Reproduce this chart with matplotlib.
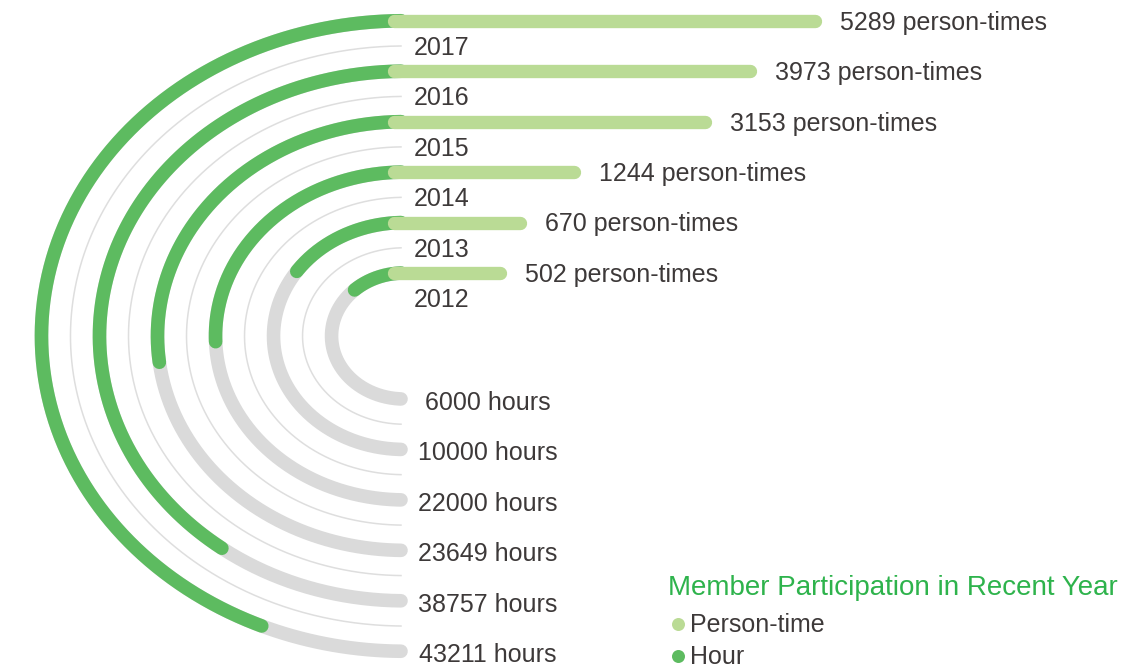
import numpy as np
import matplotlib
matplotlib.use('Agg')
import matplotlib.pyplot as plt
from matplotlib.lines import Line2D

# ---------------- data ----------------
years = ['2012', '2013', '2014', '2015', '2016', '2017']
person_times = [502, 670, 1244, 3153, 3973, 5289]
hours = [6000, 10000, 22000, 23649, 38757, 43211]
person_suffix = ' person-times'
hour_suffix = ' hours'
title = 'Member Participation in Recent Year'
legend_labels = ['Person-time', 'Hour']

# ---------------- style ----------------
W, H, DPI = 1148, 669, 100
DARK = '#5dbb60'
LIGHT = '#badb95'
GRAY = '#dadada'
THIN = '#dedede'
TEXT = '#3d3939'
TITLE_C = '#2eb34c'
plt.rcParams['font.family'] = ['Liberation Sans', 'DejaVu Sans']
FS = 18
PX = 72.0 / DPI                     # points per pixel
CAP_HALF = 0.716 * FS / 2           # half cap height in points

fig = plt.figure(figsize=(W / DPI, H / DPI), dpi=DPI)
fig.patch.set_facecolor('white')

# ---------------- layout ----------------
CX, CY = 404, 336          # centre of the rings (px)
RING0, RING_STEP = 63.0, 50.45
XSTRETCH = 1.15            # rings are drawn slightly wider than tall
END_PX = 3.0               # rings stop this many px short of the centre line
R0 = RING0 / RING_STEP     # radial offset of the first ring (ring units)
RMAX = CY / RING_STEP
half_h = CY
half_w = XSTRETCH * CY
box = [(CX - half_w) / W, (H - (CY + half_h)) / H, 2 * half_w / W, 2 * half_h / H]

# angular scale for hours (semicircle from top, counter-clockwise)
H_LO, H_HI = -8060, 50760


def hour_theta(h):
    return np.pi * (h - H_LO) / (H_HI - H_LO)


def trim(r):
    return np.arcsin(END_PX / (XSTRETCH * r * RING_STEP))


axp = fig.add_axes(box, projection='polar')
axp.set_aspect('auto')
axp.set_theta_zero_location('N')
axp.set_theta_direction(1)
axp.set_ylim(0, RMAX)
axp.set_axis_off()

ARC_LW = 9.8
for i, h in enumerate(hours):
    r = i + R0
    t0 = trim(r)
    th = np.linspace(t0, np.pi - t0, 400)
    axp.plot(th, np.full_like(th, r), color=GRAY, lw=ARC_LW,
             solid_capstyle='round', clip_on=False, zorder=1)
    te = hour_theta(h)
    th2 = np.linspace(t0, te, 300)
    axp.plot(th2, np.full_like(th2, r), color=DARK, lw=ARC_LW,
             solid_capstyle='round', clip_on=False, zorder=2)
for i in range(1, len(years)):
    r = i + R0 - 0.5
    t0 = trim(r)
    th = np.linspace(t0, np.pi - t0, 400)
    axp.plot(th, np.full_like(th, r), color=THIN, lw=1.1, clip_on=False, zorder=1)

# ---------------- person-time bars ----------------
P_EXP = 0.5842
C_LEN = 2.816
VMAX = 7000
BAR_X0 = 393.5
BW = C_LEN * VMAX ** P_EXP
axb = fig.add_axes([BAR_X0 / W, box[1], BW / W, box[3]])
axb.set_xscale('function',
               functions=(lambda v: np.power(np.clip(v, 0, None), P_EXP),
                          lambda u: np.power(np.clip(u, 0, None), 1 / P_EXP)))
axb.set_xlim(0, VMAX)
axb.set_ylim(-RMAX, RMAX)
axb.set_axis_off()

for i, v in enumerate(person_times):
    y = i + R0
    axb.plot([0, v], [y, y], color=LIGHT, lw=9.6, solid_capstyle='round',
             clip_on=False, zorder=3)
    axb.annotate(f'{v}{person_suffix}', xy=(v, y), xytext=(25 * PX, -CAP_HALF),
                 textcoords='offset points', ha='left', va='baseline',
                 fontsize=FS, color=TEXT, annotation_clip=False)
    # year label on the thin guide line just below each bar
    axb.annotate(years[i], xy=(0, y - 0.5), xytext=(20.5 * PX, -CAP_HALF),
                 textcoords='offset points', ha='left', va='baseline',
                 fontsize=FS, color=TEXT, annotation_clip=False)
    # hour label at the bottom end of the ring
    axb.annotate(f'{hours[i]}{hour_suffix}', xy=(0, -y), xytext=(94.5 * PX, -CAP_HALF - 2 * PX),
                 textcoords='offset points', ha='center', va='baseline',
                 fontsize=FS, color=TEXT, annotation_clip=False)

# ---------------- title & legend ----------------
fig.text(668 / W, 1 - 595 / H, title, fontsize=20, color=TITLE_C,
         ha='left', va='baseline')
leg_y = [632, 664]
leg_c = [LIGHT, DARK]
for lab, yb, c in zip(legend_labels, leg_y, leg_c):
    fig.text(690 / W, 1 - yb / H, lab, fontsize=FS, color=TEXT, ha='left', va='baseline')
    fig.add_artist(Line2D([677.5 / W], [1 - (yb - 8) / H], marker='o', markersize=13 * PX,
                          color=c, markeredgewidth=0, transform=fig.transFigure))

fig.savefig('out.png', dpi=DPI, facecolor='white')
